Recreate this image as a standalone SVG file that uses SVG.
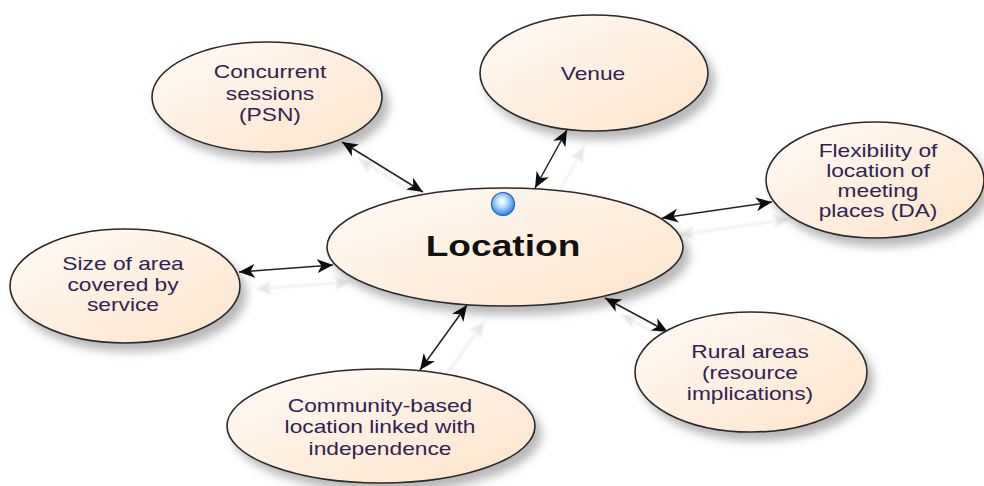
<svg xmlns="http://www.w3.org/2000/svg" width="984" height="486" viewBox="0 0 984 486">
<style>
.node ellipse{fill:url(#peach);stroke:#2a2a2a;stroke-width:1.6;filter:url(#nshadow)}
.lbl{font-family:"Liberation Sans",Arial,sans-serif;font-size:17.5px;fill:#2e2352;text-anchor:middle}
.main{font-family:"Liberation Sans",Arial,sans-serif;font-size:29px;font-weight:bold;fill:#111;text-anchor:middle}
.conn line{stroke:#222;stroke-width:1.5;marker-start:url(#ah);marker-end:url(#ah)}
</style>
<defs>
<linearGradient id="peach" x1="0" y1="0" x2="1" y2="1">
<stop offset="0" stop-color="#fffbf7"/>
<stop offset="1" stop-color="#fde3c9"/>
</linearGradient>
<radialGradient id="dot" cx="0.45" cy="0.4" r="0.6">
<stop offset="0" stop-color="#ffffff"/>
<stop offset="0.35" stop-color="#bfe3ff"/>
<stop offset="1" stop-color="#2f7fe0"/>
</radialGradient>
<filter id="nshadow" x="-20%" y="-20%" width="150%" height="160%">
<feDropShadow dx="6" dy="8" stdDeviation="5" flood-color="#000" flood-opacity="0.28"/>
</filter>
<filter id="cshadow" x="-50%" y="-50%" width="200%" height="200%">
<feDropShadow dx="17" dy="17" stdDeviation="0.8" flood-color="#999" flood-opacity="0.25"/>
</filter>
<marker id="ah" markerUnits="userSpaceOnUse" viewBox="0 0 16 14" markerWidth="16" markerHeight="14" refX="16" refY="7" orient="auto-start-reverse">
<path d="M0,0 L16,7 L0,14 L4.5,7 z" fill="#111"/>
</marker>
</defs>
<rect width="984" height="486" fill="#fff"/>
<g id="connectors" class="conn" filter="url(#cshadow)">
<line x1="342" y1="142" x2="423" y2="192"/>
<line x1="567" y1="130" x2="535" y2="188"/>
<line x1="662" y1="218" x2="772" y2="202"/>
<line x1="239" y1="272" x2="333" y2="265"/>
<line x1="467" y1="305" x2="420" y2="370"/>
<line x1="605" y1="298" x2="668" y2="332"/>
</g>
<g id="concurrent" class="node">
<ellipse cx="267" cy="97" rx="115" ry="55"/>
<g transform="translate(270 0) scale(1.3 1)"><text class="lbl"><tspan x="0" y="78">Concurrent</tspan><tspan x="0" y="100">sessions</tspan><tspan x="0" y="121">(PSN)</tspan></text></g>
</g>
<g id="venue" class="node">
<ellipse cx="594" cy="73" rx="114" ry="58"/>
<g transform="translate(593 0) scale(1.3 1)"><text class="lbl"><tspan x="0" y="80">Venue</tspan></text></g>
</g>
<g id="flexibility" class="node">
<ellipse cx="875" cy="180" rx="109" ry="58"/>
<g transform="translate(878 0) scale(1.3 1)"><text class="lbl"><tspan x="0" y="157">Flexibility of</tspan><tspan x="0" y="177">location of</tspan><tspan x="0" y="197">meeting</tspan><tspan x="0" y="217">places (DA)</tspan></text></g>
</g>
<g id="size" class="node">
<ellipse cx="125" cy="286" rx="115" ry="57"/>
<g transform="translate(123 0) scale(1.3 1)"><text class="lbl"><tspan x="0" y="270">Size of area</tspan><tspan x="0" y="291">covered by</tspan><tspan x="0" y="311">service</tspan></text></g>
</g>
<g id="community" class="node">
<ellipse cx="381" cy="426" rx="154" ry="57"/>
<g transform="translate(380 0) scale(1.3 1)"><text class="lbl"><tspan x="0" y="412">Community-based</tspan><tspan x="0" y="433">location linked with</tspan><tspan x="0" y="455">independence</tspan></text></g>
</g>
<g id="rural" class="node">
<ellipse cx="751" cy="372" rx="116" ry="60"/>
<g transform="translate(750 0) scale(1.3 1)"><text class="lbl"><tspan x="0" y="358">Rural areas</tspan><tspan x="0" y="379">(resource</tspan><tspan x="0" y="400">implications)</tspan></text></g>
</g>
<g id="location" class="node">
<ellipse cx="505" cy="247" rx="178" ry="59"/>
<circle cx="503" cy="204" r="11.5" fill="url(#dot)" stroke="#1f63c4" stroke-width="1.2"/>
<g transform="translate(503 0) scale(1.28 1)"><text class="main"><tspan x="0" y="256">Location</tspan></text></g>
</g>
</svg>
